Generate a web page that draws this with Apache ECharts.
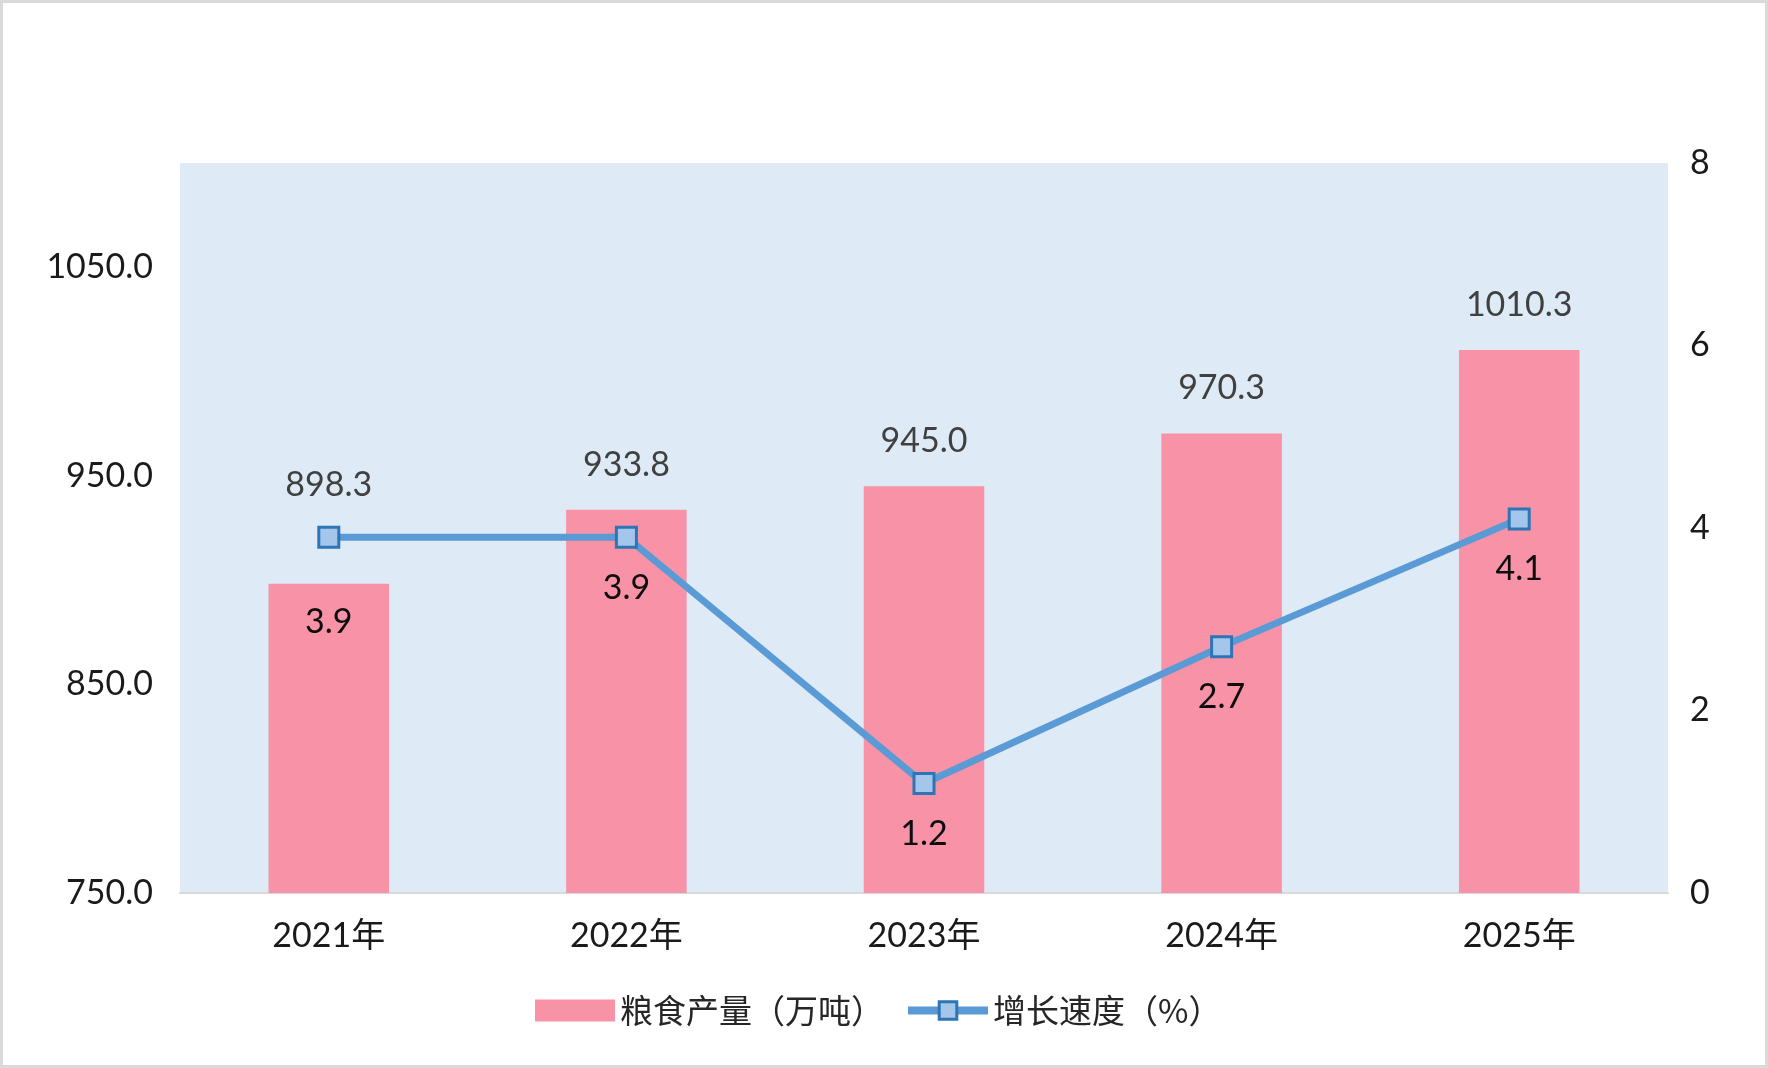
<!DOCTYPE html>
<html lang="zh-CN">
<head>
<meta charset="UTF-8">
<title>粮食产量及增长速度</title>
<script src="https://cdn.jsdelivr.net/npm/echarts@6/dist/echarts.min.js"></script>
<style>
    html, body { margin: 0; padding: 0; background: #fff; }
    #chart { width: 1768px; height: 1068px; }
</style>
</head>
<body>
<div id="chart"></div>
<script>
    var years = ['2021年', '2022年', '2023年', '2024年', '2025年'];
    var grainOutput = [898.3, 933.8, 945.0, 970.3, 1010.3];   // 万吨
    var growthRate = [3.9, 3.9, 1.2, 2.7, 4.1];               // %
    var leftTicks = { min: 750, max: 1100, step: 100 };
    var rightTicks = { min: 0, max: 8, step: 2 };

    var numFont = 'Lato, "Noto Sans CJK SC", sans-serif';
    var cjkFont = '"Noto Sans CJK SC", Lato, sans-serif';

    // first year: labels pushed apart so they don't collide with the marker
    var barData = grainOutput.map(function (v, i) {
        var item = { value: v };
        if (i === 0) item.label = { offset: [0, -54] };
        return item;
    });
    var lineData = growthRate.map(function (v, i) {
        var item = { value: v };
        if (i === 0) item.label = { offset: [0, 34] };
        return item;
    });

    var chart = echarts.init(document.getElementById('chart'));
    chart.setOption({
        animation: false,
        textStyle: { fontFamily: numFont },
        graphic: [{
            type: 'rect',
            shape: { x: 1.5, y: 1.5, width: 1765, height: 1065 },
            style: { fill: 'none', stroke: '#D9D9D9', lineWidth: 3 },
            silent: true
        }],
        grid: {
            left: 180, right: 100, top: 163, bottom: 175,
            show: true, backgroundColor: '#DEEAF6', borderWidth: 0
        },
        legend: {
            left: 530, top: 989,
            itemWidth: 80, itemHeight: 22, itemGap: 20,
            textStyle: { fontFamily: cjkFont, fontSize: 33, color: '#262626' },
            data: [
                { name: '粮食产量（万吨）', icon: 'rect' },
                {
                    name: '增长速度（%）',
                    lineStyle: { width: 8, color: '#5B9BD5' },
                    itemStyle: { color: '#A4C6EA', borderColor: '#2E75B6', borderWidth: 3 }
                }
            ]
        },
        xAxis: {
            type: 'category',
            data: years,
            axisLine: { lineStyle: { color: '#D9D9D9', width: 2 } },
            axisTick: { show: false },
            axisLabel: { margin: 26, fontSize: 34, color: '#1a1a1a', fontFamily: numFont }
        },
        yAxis: [{
            type: 'value',
            min: leftTicks.min, max: leftTicks.max, interval: leftTicks.step,
            splitLine: { show: false },
            axisLine: { show: false },
            axisTick: { show: false },
            axisLabel: {
                margin: 27, fontSize: 34, color: '#1a1a1a', showMaxLabel: false,
                formatter: function (v) { return v.toFixed(1); }
            }
        }, {
            type: 'value',
            min: rightTicks.min, max: rightTicks.max, interval: rightTicks.step,
            splitLine: { show: false },
            axisLine: { show: false },
            axisTick: { show: false },
            axisLabel: { margin: 22, fontSize: 34, color: '#1a1a1a' }
        }],
        series: [{
            name: '粮食产量（万吨）',
            type: 'bar',
            yAxisIndex: 0,
            barWidth: '40.5%',
            itemStyle: { color: '#F792A7' },
            label: {
                show: true, position: 'top', distance: 28,
                fontSize: 34, color: '#404040',
                formatter: function (p) { return p.value.toFixed(1); }
            },
            data: barData
        }, {
            name: '增长速度（%）',
            type: 'line',
            yAxisIndex: 1,
            symbol: 'rect',
            symbolSize: 20,
            lineStyle: { color: '#5B9BD5', width: 7 },
            itemStyle: { color: '#A4C6EA', borderColor: '#2E75B6', borderWidth: 3 },
            label: {
                show: true, position: 'bottom', distance: 22,
                fontSize: 34, color: '#0d0d0d',
                formatter: function (p) { return p.value.toFixed(1); }
            },
            z: 3,
            data: lineData
        }]
    });
</script>
</body>
</html>
